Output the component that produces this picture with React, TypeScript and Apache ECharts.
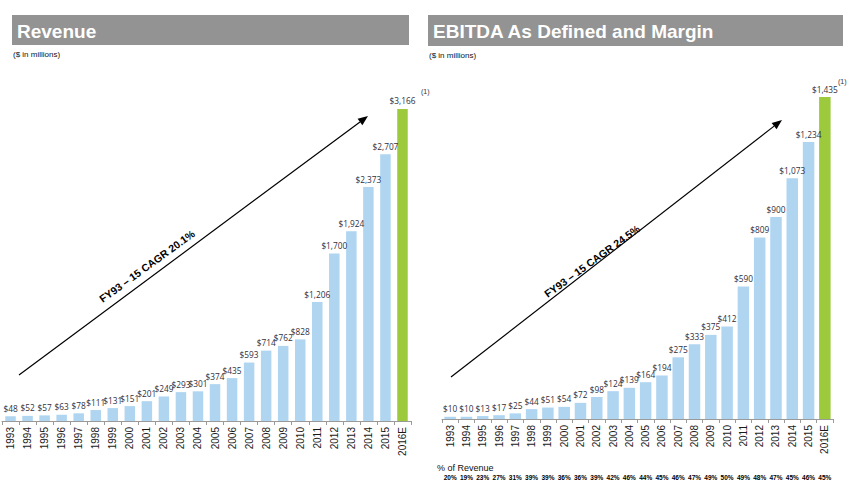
import React, { useEffect, useRef } from "react";
import * as echarts from "echarts";

// Fiscal years shown on both panels
const years = [
  "1993", "1994", "1995", "1996", "1997", "1998", "1999", "2000", "2001", "2002", "2003", "2004",
  "2005", "2006", "2007", "2008", "2009", "2010", "2011", "2012", "2013", "2014", "2015", "2016E",
];

// Revenue ($ in millions)
const revenue = [
  48, 52, 57, 63, 78, 111, 131, 151, 201, 249, 293, 301,
  374, 435, 593, 714, 762, 828, 1206, 1700, 1924, 2373, 2707, 3166,
];

// EBITDA As Defined ($ in millions)
const ebitda = [
  10, 10, 13, 17, 25, 44, 51, 54, 72, 98, 124, 139,
  164, 194, 275, 333, 375, 412, 590, 809, 900, 1073, 1234, 1435,
];

// EBITDA margin, % of revenue
const margin = [
  "20%", "19%", "23%", "27%", "31%", "39%", "39%", "36%", "36%", "39%", "42%", "46%",
  "44%", "45%", "46%", "47%", "49%", "50%", "49%", "48%", "47%", "45%", "46%", "45%",
];

const BLUE = "#afd5f1";
const GREEN = "#9cca3c";
const LABEL_FONT = "'Open Sans', 'DejaVu Sans', sans-serif";
const AXIS_FONT = "'Liberation Sans', Arial, sans-serif";

const fmt = (v: number) => "$" + v.toLocaleString("en-US");

const barData = (values: number[]) =>
  values.map((v, i) => ({
    value: v,
    itemStyle: { color: i === values.length - 1 ? GREEN : BLUE },
  }));

// straight trend arrow with a filled head
function arrow(x1: number, y1: number, x2: number, y2: number) {
  const ang = Math.atan2(y2 - y1, x2 - x1);
  const len = 10;
  const half = 4;
  const bx = x2 - len * Math.cos(ang);
  const by = y2 - len * Math.sin(ang);
  const px = -Math.sin(ang) * half;
  const py = Math.cos(ang) * half;
  return [
    {
      type: "line",
      shape: { x1, y1, x2: bx, y2: by },
      style: { stroke: "#000", lineWidth: 1.2 },
    },
    {
      type: "polygon",
      shape: { points: [[x2, y2], [bx + px, by + py], [bx - px, by - py]] },
      style: { fill: "#000" },
    },
  ];
}

function header(x: number, y: number, w: number, h: number, title: string) {
  return [
    { type: "rect", shape: { x, y, width: w, height: h }, style: { fill: "#939393" } },
    {
      type: "text",
      x: x + 5,
      y: y + h / 2 + 1,
      style: {
        text: title,
        fill: "#fff",
        font: "bold 19px 'Liberation Sans', Arial, sans-serif",
        verticalAlign: "middle",
        align: "left",
      },
    },
    {
      type: "text",
      x: x + 1,
      y: y + h + 9,
      style: {
        text: "($ in millions)",
        fill: "#111",
        font: "8px 'Liberation Sans', Arial, sans-serif",
        verticalAlign: "middle",
      },
    },
  ];
}

function cagrText(x: number, y: number, angleDeg: number, text: string) {
  return {
    type: "text",
    x,
    y,
    rotation: (angleDeg * Math.PI) / 180,
    style: {
      text,
      fill: "#000",
      font: "bold 10.5px 'Liberation Sans', Arial, sans-serif",
      align: "center",
      verticalAlign: "middle",
    },
  };
}

function footnote(x: number, y: number) {
  return {
    type: "text",
    x,
    y,
    style: {
      text: "(1)",
      fill: "#2f3040",
      font: "7px 'Liberation Sans', Arial, sans-serif",
      align: "left",
      verticalAlign: "middle",
    },
  };
}

const categoryAxis = (gridIndex: number) => ({
  type: "category",
  gridIndex,
  data: years,
  boundaryGap: true,
  axisLine: { lineStyle: { color: "#9a9a9a", width: 1 } },
  axisTick: { show: true, length: 4, lineStyle: { color: "#9a9a9a" } },
  axisLabel: {
    interval: 0,
    rotate: 90,
    margin: 6,
    fontSize: 10,
    fontFamily: AXIS_FONT,
    color: "#1a1a1a",
  },
});

const valueLabel = {
  show: true,
  position: "top",
  distance: 4,
  fontSize: 8.3,
  fontFamily: LABEL_FONT,
  color: "#2f3040",
  formatter: (p: any) => fmt(p.value),
};

export default function App() {
  const ref = useRef<HTMLDivElement>(null);

  useEffect(() => {
    if (!ref.current) return;
    const chart = echarts.init(ref.current, null, { renderer: "svg" });

    chart.setOption({
      animation: false,
      backgroundColor: "#fff",
      grid: [
        { left: 2, right: 450, top: 76, bottom: 64 },
        { left: 442, right: 28, top: 60, bottom: 66 },
      ],
      xAxis: [
        categoryAxis(0),
        categoryAxis(1),
        {
          type: "category",
          gridIndex: 1,
          position: "bottom",
          data: margin,
          axisLine: { show: false },
          axisTick: { show: false },
          axisLabel: {
            interval: 0,
            margin: 55,
            fontSize: 6.5,
            fontWeight: "bold",
            fontFamily: AXIS_FONT,
            color: "#000",
          },
        },
      ],
      yAxis: [
        { type: "value", gridIndex: 0, min: 0, max: 3500, show: false, splitLine: { show: false } },
        { type: "value", gridIndex: 1, min: 0, max: 1600, show: false, splitLine: { show: false } },
      ],
      series: [
        {
          type: "bar",
          xAxisIndex: 0,
          yAxisIndex: 0,
          barWidth: 10.5,
          data: barData(revenue),
          label: valueLabel,
        },
        {
          type: "bar",
          xAxisIndex: 1,
          yAxisIndex: 1,
          barWidth: 11.5,
          data: barData(ebitda),
          label: valueLabel,
        },
      ],
      graphic: [
        ...header(12, 15, 397, 30, "Revenue"),
        ...header(428, 15, 415, 31, "EBITDA As Defined and Margin"),
        ...arrow(19, 375, 368, 116),
        ...arrow(451, 377, 782, 120),
        cagrText(147, 266, 36, "FY93 \u2013 15 CAGR 20.1%"),
        cagrText(592, 261, 36, "FY93 \u2013 15 CAGR 24.5%"),
        footnote(421, 91),
        footnote(838, 81),
        {
          type: "text",
          x: 437,
          y: 468,
          style: { text: "% of Revenue", fill: "#111", font: "9px 'Liberation Sans', Arial, sans-serif", verticalAlign: "middle" },
        },
      ],
    });

    return () => chart.dispose();
  }, []);

  return (
    <div
      ref={ref}
      style={{ position: "absolute", left: 0, top: 0, width: 861, height: 485, background: "#fff" }}
    />
  );
}
